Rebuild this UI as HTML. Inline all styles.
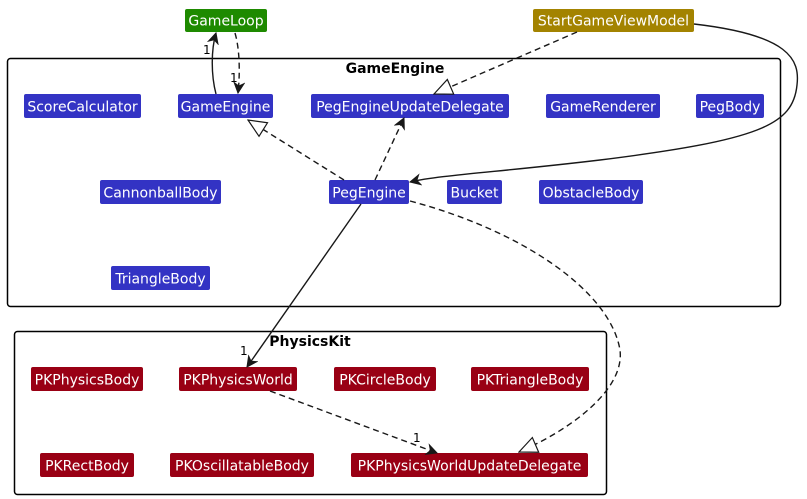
<!DOCTYPE html>
<html><head><meta charset="utf-8"><style>
html,body{margin:0;padding:0;background:#fff;}
svg{display:block;}
text{font-family:"DejaVu Sans","Liberation Sans",sans-serif;}
</style></head><body>
<svg width="807" height="499" viewBox="0 0 807 499" xmlns="http://www.w3.org/2000/svg">
<defs>
<marker id="op" viewBox="0 0 12 12" refX="11" refY="6" markerWidth="12" markerHeight="12" orient="auto" markerUnits="userSpaceOnUse">
<path d="M1,1 L11,6 L1,11 L4,6 Z" fill="#181818" stroke="#181818" stroke-width="1"/>
</marker>
<marker id="tri" viewBox="0 0 20 20" refX="19" refY="10" markerWidth="20" markerHeight="20" orient="auto" markerUnits="userSpaceOnUse">
<path d="M1,2 L19,10 L1,18 Z" fill="#fff" stroke="#181818" stroke-width="1.2"/>
</marker>
</defs>
<rect x="7.5" y="58.5" width="773" height="248" rx="3" fill="none" stroke="#000" stroke-width="1.5"/>
<text x="395" y="73" font-size="14" font-weight="bold" text-anchor="middle" fill="#000">GameEngine</text>
<rect x="14.5" y="331.5" width="592" height="163" rx="3" fill="none" stroke="#000" stroke-width="1.5"/>
<text x="310" y="346" font-size="14" font-weight="bold" text-anchor="middle" fill="#000">PhysicsKit</text>

<g font-size="14" fill="#fff" text-anchor="middle">
<rect x="185" y="9" width="82" height="23" rx="2" fill="#1e8a00"/><text x="226" y="25.5">GameLoop</text>
<rect x="533" y="9" width="161" height="23" rx="2" fill="#a38300"/><text x="613.5" y="25.5">StartGameViewModel</text>

<rect x="24" y="94" width="117" height="24" rx="2" fill="#3333c4"/><text x="82.5" y="111.5">ScoreCalculator</text>
<rect x="178" y="94" width="95" height="24" rx="2" fill="#3333c4"/><text x="225.5" y="111.5">GameEngine</text>
<rect x="311" y="94" width="198" height="24" rx="2" fill="#3333c4"/><text x="410" y="111.5">PegEngineUpdateDelegate</text>
<rect x="546" y="94" width="114" height="24" rx="2" fill="#3333c4"/><text x="603" y="111.5">GameRenderer</text>
<rect x="696" y="94" width="68" height="24" rx="2" fill="#3333c4"/><text x="730" y="111.5">PegBody</text>

<rect x="100" y="180" width="121" height="24" rx="2" fill="#3333c4"/><text x="160.5" y="197.5">CannonballBody</text>
<rect x="329" y="180" width="80" height="24" rx="2" fill="#3333c4"/><text x="369" y="197.5">PegEngine</text>
<rect x="447" y="180" width="55" height="24" rx="2" fill="#3333c4"/><text x="474.5" y="197.5">Bucket</text>
<rect x="539" y="180" width="104" height="24" rx="2" fill="#3333c4"/><text x="591" y="197.5">ObstacleBody</text>

<rect x="111" y="266" width="99" height="24" rx="2" fill="#3333c4"/><text x="160.5" y="283.5">TriangleBody</text>

<rect x="31" y="367" width="112" height="24" rx="2" fill="#990014"/><text x="87" y="384.5">PKPhysicsBody</text>
<rect x="179" y="367" width="118" height="24" rx="2" fill="#990014"/><text x="238" y="384.5">PKPhysicsWorld</text>
<rect x="334" y="367" width="102" height="24" rx="2" fill="#990014"/><text x="385" y="384.5">PKCircleBody</text>
<rect x="471" y="367" width="118" height="24" rx="2" fill="#990014"/><text x="530" y="384.5">PKTriangleBody</text>

<rect x="40" y="453" width="94" height="24" rx="2" fill="#990014"/><text x="87" y="470.5">PKRectBody</text>
<rect x="170" y="453" width="144" height="24" rx="2" fill="#990014"/><text x="242" y="470.5">PKOscillatableBody</text>
<rect x="351" y="453" width="237" height="24" rx="2" fill="#990014"/><text x="469.5" y="470.5">PKPhysicsWorldUpdateDelegate</text>
</g>

<g fill="none" stroke="#181818" stroke-width="1.4">
<path d="M216,94 C211,75 211,50 216,33" marker-end="url(#op)"/>
<path d="M235,33 C240,50 240,75 238,93" stroke-dasharray="6,4" marker-end="url(#op)"/>
<path d="M577,32 L434,94" stroke-dasharray="6,4" marker-end="url(#tri)"/>
<path d="M694,24 C790,35 800,60 797,85 C793,125 760,140 600,160 C500,172 440,175 410,182" marker-end="url(#op)"/>
<path d="M344,180 L248,120" stroke-dasharray="6,4" marker-end="url(#tri)"/>
<path d="M375,180 L404,118" stroke-dasharray="6,4" marker-end="url(#op)"/>
<path d="M361,204 L247,367" marker-end="url(#op)"/>
<path d="M270,391 L437,453" stroke-dasharray="6,4" marker-end="url(#op)"/>
<path d="M410,201 C520,230 610,290 620,350 C625,390 570,430 519,452" stroke-dasharray="6,4" marker-end="url(#tri)"/>
</g>
<g font-size="12" fill="#000">
<text x="203" y="54">1</text>
<text x="230" y="82">1</text>
<text x="240" y="355">1</text>
<text x="413" y="442">1</text>
</g>
</svg>
</body></html>
